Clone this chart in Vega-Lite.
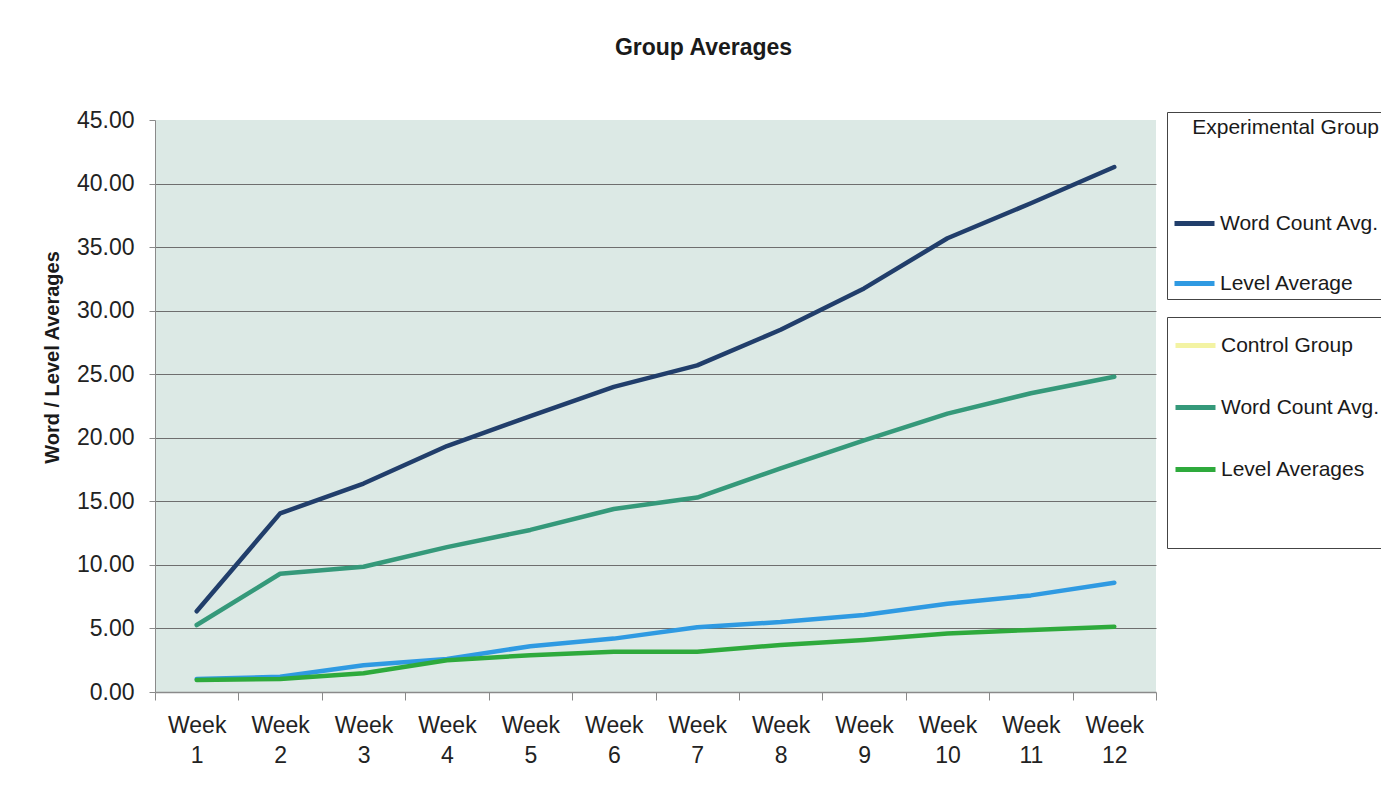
{
  "$schema": "https://vega.github.io/schema/vega-lite/v6.json",
  "width": 1001,
  "height": 572,
  "autosize": {"type": "none"},
  "padding": {"left": 155, "top": 120, "right": 225, "bottom": 101},
  "background": "#ffffff",
  "config": {
    "font": "Liberation Sans",
    "view": {"fill": "#dce9e5", "stroke": null}
  },
  "title": {
    "text": "Group Averages",
    "fontSize": 23,
    "fontWeight": "bold",
    "color": "#1a1a1a",
    "anchor": "middle",
    "frame": "group",
    "dx": 48,
    "offset": 49
  },
  "data": {
    "values": [
      {"week": 1, "group": "Experimental", "series": "Word Count Avg.", "value": 6.35},
      {"week": 2, "group": "Experimental", "series": "Word Count Avg.", "value": 14.05},
      {"week": 3, "group": "Experimental", "series": "Word Count Avg.", "value": 16.4},
      {"week": 4, "group": "Experimental", "series": "Word Count Avg.", "value": 19.35},
      {"week": 5, "group": "Experimental", "series": "Word Count Avg.", "value": 21.7},
      {"week": 6, "group": "Experimental", "series": "Word Count Avg.", "value": 24.0},
      {"week": 7, "group": "Experimental", "series": "Word Count Avg.", "value": 25.7},
      {"week": 8, "group": "Experimental", "series": "Word Count Avg.", "value": 28.5},
      {"week": 9, "group": "Experimental", "series": "Word Count Avg.", "value": 31.75},
      {"week": 10, "group": "Experimental", "series": "Word Count Avg.", "value": 35.7},
      {"week": 11, "group": "Experimental", "series": "Word Count Avg.", "value": 38.45},
      {"week": 12, "group": "Experimental", "series": "Word Count Avg.", "value": 41.3},
      {"week": 1, "group": "Experimental", "series": "Level Average", "value": 1.02},
      {"week": 2, "group": "Experimental", "series": "Level Average", "value": 1.2},
      {"week": 3, "group": "Experimental", "series": "Level Average", "value": 2.1},
      {"week": 4, "group": "Experimental", "series": "Level Average", "value": 2.6},
      {"week": 5, "group": "Experimental", "series": "Level Average", "value": 3.6},
      {"week": 6, "group": "Experimental", "series": "Level Average", "value": 4.2},
      {"week": 7, "group": "Experimental", "series": "Level Average", "value": 5.1},
      {"week": 8, "group": "Experimental", "series": "Level Average", "value": 5.5},
      {"week": 9, "group": "Experimental", "series": "Level Average", "value": 6.05},
      {"week": 10, "group": "Experimental", "series": "Level Average", "value": 6.95},
      {"week": 11, "group": "Experimental", "series": "Level Average", "value": 7.6},
      {"week": 12, "group": "Experimental", "series": "Level Average", "value": 8.6},
      {"week": 1, "group": "Control", "series": "Word Count Avg.", "value": 5.27},
      {"week": 2, "group": "Control", "series": "Word Count Avg.", "value": 9.3},
      {"week": 3, "group": "Control", "series": "Word Count Avg.", "value": 9.85},
      {"week": 4, "group": "Control", "series": "Word Count Avg.", "value": 11.4},
      {"week": 5, "group": "Control", "series": "Word Count Avg.", "value": 12.75},
      {"week": 6, "group": "Control", "series": "Word Count Avg.", "value": 14.4},
      {"week": 7, "group": "Control", "series": "Word Count Avg.", "value": 15.3},
      {"week": 8, "group": "Control", "series": "Word Count Avg.", "value": 17.6},
      {"week": 9, "group": "Control", "series": "Word Count Avg.", "value": 19.8},
      {"week": 10, "group": "Control", "series": "Word Count Avg.", "value": 21.9},
      {"week": 11, "group": "Control", "series": "Word Count Avg.", "value": 23.5},
      {"week": 12, "group": "Control", "series": "Word Count Avg.", "value": 24.8},
      {"week": 1, "group": "Control", "series": "Level Averages", "value": 0.95},
      {"week": 2, "group": "Control", "series": "Level Averages", "value": 1.02},
      {"week": 3, "group": "Control", "series": "Level Averages", "value": 1.47},
      {"week": 4, "group": "Control", "series": "Level Averages", "value": 2.5},
      {"week": 5, "group": "Control", "series": "Level Averages", "value": 2.9},
      {"week": 6, "group": "Control", "series": "Level Averages", "value": 3.17},
      {"week": 7, "group": "Control", "series": "Level Averages", "value": 3.17},
      {"week": 8, "group": "Control", "series": "Level Averages", "value": 3.7},
      {"week": 9, "group": "Control", "series": "Level Averages", "value": 4.1},
      {"week": 10, "group": "Control", "series": "Level Averages", "value": 4.6},
      {"week": 11, "group": "Control", "series": "Level Averages", "value": 4.88},
      {"week": 12, "group": "Control", "series": "Level Averages", "value": 5.14}
    ]
  },
  "encoding": {
    "x": {
      "field": "week",
      "type": "ordinal",
      "scale": {"type": "band", "paddingInner": 0, "paddingOuter": 0},
      "axis": {
        "title": null,
        "labelAngle": 0,
        "labelExpr": "datum.label ? ['Week', datum.label] : ''",
        "labelFontSize": 23,
        "labelColor": "#222222",
        "labelLineHeight": 30,
        "labelPadding": 14,
        "tickBand": "extent",
        "tickSize": 8,
        "tickColor": "#8a8a8a",
        "domainColor": "#8a8a8a",
        "domainWidth": 1.5,
        "grid": false
      }
    },
    "y": {
      "field": "value",
      "type": "quantitative",
      "scale": {"domain": [0, 45], "nice": false, "zero": true},
      "axis": {
        "title": "Word / Level Averages",
        "titleFontSize": 20,
        "titleFontWeight": "bold",
        "titleColor": "#1a1a1a",
        "titleX": -103,
        "titleY": 237,
        "titleBaseline": "middle",
        "values": [0, 5, 10, 15, 20, 25, 30, 35, 40, 45],
        "format": ".2f",
        "labelFontSize": 23,
        "labelColor": "#222222",
        "labelPadding": 15,
        "tickSize": 6,
        "tickColor": "#8a8a8a",
        "domainColor": "#8a8a8a",
        "grid": true,
        "gridColor": "#6e6e6e",
        "gridWidth": 1.2,
        "gridOpacity": {"condition": {"test": "datum.value === 0 || datum.value === 45", "value": 0}, "value": 1}
      }
    }
  },
  "layer": [
    {
      "transform": [{"filter": "datum.group === 'Experimental'"}],
      "mark": {"type": "line", "strokeWidth": 4.5, "strokeCap": "round", "strokeJoin": "round"},
      "encoding": {
        "color": {
          "field": "series",
          "type": "nominal",
          "scale": {"domain": ["Word Count Avg.", "Level Average"], "range": ["#213e6b", "#2f9ae2"]},
          "legend": {
            "orient": "none",
            "legendX": 1012,
            "legendY": -8,
            "title": "Experimental Group",
            "titleFontSize": 21,
            "titleFontWeight": "normal",
            "titleColor": "#1a1a1a",
            "titleAnchor": "end",
            "titleLimit": 400,
            "titlePadding": 63,
            "labelFontSize": 21,
            "labelColor": "#1a1a1a",
            "labelOffset": 3,
            "labelLimit": 300,
            "symbolType": "stroke",
            "symbolSize": 1600,
            "symbolStrokeWidth": 5,
            "rowPadding": 27,
            "padding": 5,
            "strokeColor": "#444444",
            "fillColor": "#ffffff"
          }
        }
      }
    },
    {
      "transform": [{"filter": "datum.group === 'Control'"}],
      "mark": {"type": "line", "strokeWidth": 4.5, "strokeCap": "round", "strokeJoin": "round"},
      "encoding": {
        "color": {
          "field": "series",
          "type": "nominal",
          "scale": {"domain": ["Control Group", "Word Count Avg.", "Level Averages"], "range": ["#f3f3a3", "#35997a", "#2eaa3c"]},
          "legend": {
            "orient": "none",
            "legendX": 1012,
            "legendY": 197,
            "title": " ",
            "titleOrient": "bottom",
            "titleFontSize": 20,
            "titlePadding": 42,
            "labelFontSize": 21,
            "labelColor": "#1a1a1a",
            "labelOffset": 3,
            "labelLimit": 300,
            "symbolType": "stroke",
            "symbolSize": 1600,
            "symbolStrokeWidth": 5,
            "rowPadding": 29,
            "padding": 6,
            "strokeColor": "#444444",
            "fillColor": "#ffffff"
          }
        }
      }
    }
  ],
  "resolve": {"scale": {"color": "independent"}, "legend": {"color": "independent"}}
}
